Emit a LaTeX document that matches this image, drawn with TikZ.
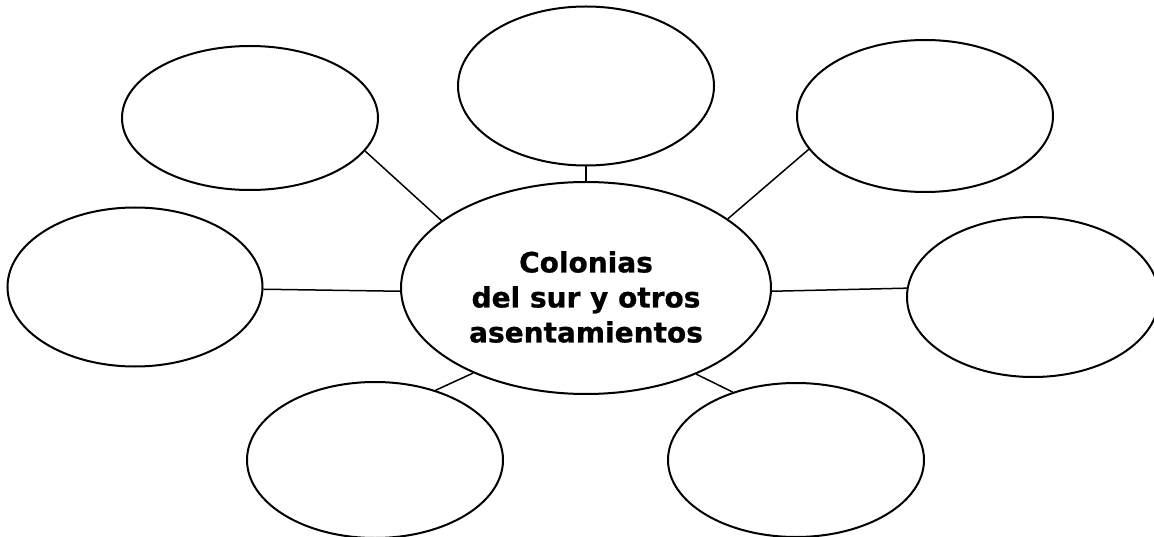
\documentclass[tikz,border=0pt]{standalone}
\usepackage{fontspec}
\setsansfont{DejaVu Sans}[BoldFeatures={FakeBold=0.8}]
\usetikzlibrary{shapes.geometric}
\newlength{\du}
\setlength{\du}{1pt}
\definecolor{dialinecolor}{rgb}{0.000000, 0.000000, 0.000000}
\tikzset{
  bubble/.style={draw=dialinecolor, ellipse, line width=2\du, inner sep=0pt},
  hubtext/.style={align=center, inner sep=0pt, font=\sffamily\bfseries\fontsize{28}{35}\selectfont},
  spoke/.style={draw=dialinecolor, line width=1.5\du},
}
\begin{document}
\begin{tikzpicture}
\pgftransformxscale{1.000000}
\pgftransformyscale{-1.000000}
\useasboundingbox (0\du,0\du) rectangle (1154\du,537\du);
% centre
\node[bubble, minimum width=370\du, minimum height=212\du] (colonias) at (586\du,288\du){};
\node[hubtext] (title) at (586\du,297\du){Colonias\\del sur y otros\\asentamientos};
% outer bubbles
\node[bubble, minimum width=256\du, minimum height=144\du] (topleft) at (250\du,118\du){};
\node[bubble, minimum width=256\du, minimum height=159\du] (topmid) at (586\du,86\du){};
\node[bubble, minimum width=256\du, minimum height=152\du] (topright) at (925\du,116\du){};
\node[bubble, minimum width=255\du, minimum height=159\du] (left) at (135\du,287\du){};
\node[bubble, minimum width=252\du, minimum height=160\du] (right) at (1033\du,297\du){};
\node[bubble, minimum width=256\du, minimum height=156\du] (botleft) at (375\du,460\du){};
\node[bubble, minimum width=256\du, minimum height=154\du] (botright) at (796\du,460\du){};
% spokes
\draw[spoke] (topleft.-16) -- (colonias.155);
\draw[spoke] (topmid.south) -- (colonias.north);
\draw[spoke] (topright.196) -- (colonias.26);
\draw[spoke] (left.-1) -- (colonias.181);
\draw[spoke] (right.176) -- (colonias.-1);
\draw[spoke] (botleft.49) -- (colonias.217);
\draw[spoke] (botright.133) -- (colonias.322);
\end{tikzpicture}
\end{document}
